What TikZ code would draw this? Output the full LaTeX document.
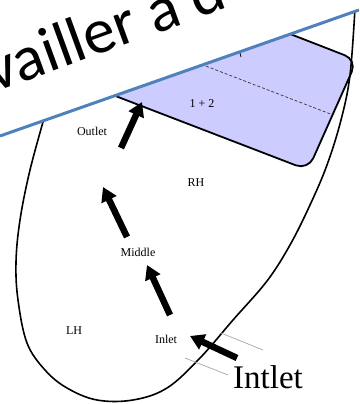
\documentclass[tikz,border=0pt]{standalone}
\usepackage{fontspec}
\setmainfont{Liberation Serif}
\newfontfamily\slidefont{Carlito}
\usetikzlibrary{arrows.meta}
\definecolor{slideblue}{HTML}{4F81BD}
\definecolor{zonefill}{HTML}{CCCCFF}
\tikzset{
  flowarrow/.style={line width=6.5pt, -{Triangle[length=14pt,width=16pt]}},
  zonelabel/.style={font=\fontsize{12}{14}\selectfont, inner sep=0pt},
  guide/.style={draw=gray!70, line width=0.7pt},
}
\begin{document}
\begin{tikzpicture}[x=1pt, y=-1pt]
\useasboundingbox (0,0) rectangle (359,404);
\clip (0,0) rectangle (359,404);

% shaded zone with its dashed split line
\draw[line width=1.8pt, fill=zonefill, rounded corners=13pt]
  (100,-40) -- (357,60) -- (308,170) -- (40,67) -- cycle;
\draw[dash pattern=on 3pt off 2pt, line width=0.7pt, black!80] (150,44.6) -- (332,114.6);
\draw[line width=0.8pt] (240,53) -- (241,57);
\node[zonelabel] (zone) at (202,104) {1 + 2};

% outer wall of the chamber
\draw[line width=1.6pt] plot[smooth, tension=0.6] coordinates {
  (45,115) (30,170) (20,220) (16,262) (18,300) (27,343) (45,370) (67,388)
  (97,400) (133,400) (167,388) (200,358) (233,320) (267,281) (290,245)
  (310,205) (327,165) (341,120) (350,75) (355,8)};

% region labels
\node[zonelabel] (outlet) at (92,131) {Outlet};
\node[zonelabel] (rh) at (196,183) {RH};
\node[zonelabel] (middle) at (138,252) {Middle};
\node[zonelabel] (lh) at (74,331) {LH};
\node[zonelabel] (inlet) at (166,339) {Inlet};
\node[font=\fontsize{33}{36}\selectfont, inner sep=0pt] (intlet) at (268,377) {Intlet};

% inlet guide lines
\coordinate (g1a) at (221,333); \coordinate (g1b) at (263,350);
\coordinate (g2a) at (185,358); \coordinate (g2b) at (228,375);
\draw[guide] (g1a) -- (g1b);
\draw[guide] (g2a) -- (g2b);

% flow arrows
\coordinate (a1s) at (121,148); \coordinate (a1e) at (142,102);
\coordinate (a2s) at (127,237); \coordinate (a2e) at (103,187);
\coordinate (a3s) at (170,315); \coordinate (a3e) at (147,265);
\coordinate (a4s) at (237,358); \coordinate (a4e) at (190,336);
\draw[flowarrow] (a1s) -- (a1e);
\draw[flowarrow] (a2s) -- (a2e);
\draw[flowarrow] (a3s) -- (a3e);
\draw[flowarrow] (a4s) -- (a4e);

% slide title band
\fill[white] (0,0) -- (359,0) -- (359,10) -- (0,136) -- cycle;
\node[rotate=20, anchor=base west, inner sep=0pt,
      font=\slidefont\fontsize{64}{66}\selectfont] (title) at (-6,93) {vailler à d};
\draw[slideblue, line width=3pt] (0,136) -- (359,10);
\end{tikzpicture}
\end{document}
